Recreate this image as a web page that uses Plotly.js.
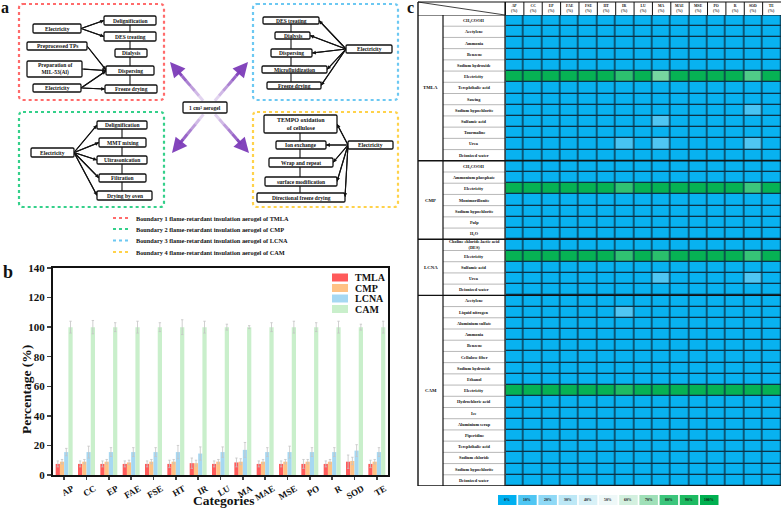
<!DOCTYPE html>
<html><head><meta charset="utf-8">
<script src="https://cdn.plot.ly/plotly-3.0.1.min.js"></script>
<style>html,body{margin:0;padding:0;background:#fff}#chart{width:781px;height:508px}</style>
</head><body><div id="chart"></div>
<script>
// ---------- DATA ----------
const categories = ['AP','CC','EP','FAE','FSE','HT','IR','LU','MA','MAE','MSE','PO','R','SOD','TE'];
const seriesNames = ['TMLA','CMP','LCNA','CAM'];
const tmla    = [7.5,7.5,7.5,7.5,7.5,7.5,8.0,7.5,8.5,7.5,7.5,7.5,7.5,9.0,7.5];
const tmlaErr = [2.0,2.0,2.0,2.0,2.0,2.5,3.5,2.0,3.0,2.0,2.0,3.0,2.0,4.5,2.5];
const cmp     = [9.0,9.0,9.0,8.5,9.0,9.0,8.0,9.0,9.0,9.0,9.0,9.0,9.0,9.5,9.0];
const cmpErr  = [1.5,1.5,1.5,1.5,1.5,1.5,2.0,1.5,2.0,1.5,1.5,1.5,1.5,2.5,1.5];
const lcna    = [15.5,15.5,15.5,15.5,15.5,15.5,14.5,15.5,17.0,15.5,15.5,15.5,15.5,16.5,15.5];
const lcnaErr = [2.5,4.0,3.0,3.0,3.0,4.5,4.5,3.5,5.0,3.0,4.0,3.0,3.0,4.0,3.0];
const cam     = [100,100,100,100,100,100,100,100,100,100,100,100,100,100,100];
const camErr  = [4.0,4.5,3.0,4.0,3.0,5.0,4.0,2.0,1.0,3.0,4.0,3.0,4.0,2.0,4.0];

const groupNames = ['TMLA','CMP','LCNA','CAM'];
const groupSizes = [13,7,5,17];
const rowLabels = [
 'CH\u2083COOH','Acetylene','Ammonia','Benzene','Sodium hydroxide','Electricity','Terephthalic acid','Sawing','Sodium hypochlorite','Sulfamic acid','Tourmaline','Urea','Deionized water',
 'CH\u2083COOH','Ammonium phosphate','Electricity','Montmorillonite','Sodium hypochlorite','Pulp','H\u2082O',
 'Choline chloride-lactic acid<br>(DES)','Electricity','Sulfamic acid','Urea','Deionized water',
 'Acetylene','Liquid nitrogen','Aluminium sulfate','Ammonia','Benzene','Cellulose fiber','Sodium hydroxide','Ethanol','Electricity','Hydrochloric acid','Ice','Aluminium scrap','Piperidine','Terephthalic acid','Sodium chloride','Sodium hypochlorite','Deionized water'
];
// contribution (%) per row (substance) and column (category)
const heat = [
 [1,1,1,1,1,1,1,1,1,1,1,1,1,1,1],
 [1,1,1,1,1,1,1,1,1,1,1,1,1,1,1],
 [1,1,1,1,1,1,1,1,1,1,1,1,1,1,1],
 [1,1,1,1,1,1,1,1,1,1,1,1,1,1,1],
 [1,1,1,1,1,1,1,1,1,1,1,1,1,1,1],
 [98,98,98,98,98,98,85,98,74,98,98,98,98,78,98],
 [1,1,1,1,1,1,1,1,1,1,1,1,1,1,1],
 [1,1,1,1,1,1,1,1,1,1,1,1,1,1,1],
 [1,1,1,1,1,1,1,1,1,1,1,1,1,9,1],
 [1,1,1,1,1,1,1,1,10,1,1,1,1,1,1],
 [1,1,1,1,1,1,1,1,1,1,1,1,1,1,1],
 [1,1,1,1,1,1,9,1,10,1,1,1,1,10,1],
 [1,1,1,1,1,1,1,1,1,1,1,1,1,1,1],
 [1,1,1,1,1,1,1,1,1,1,1,1,1,1,1],
 [1,1,1,1,1,1,1,1,1,1,1,1,1,1,1],
 [98,98,98,98,98,98,84,98,98,98,98,98,98,80,98],
 [1,1,1,1,1,1,1,1,1,1,1,1,1,1,1],
 [1,1,1,1,1,1,1,1,1,1,1,1,1,1,1],
 [1,1,1,1,1,1,1,1,1,1,1,1,1,1,1],
 [1,1,1,1,1,1,1,1,1,1,1,1,1,1,1],
 [1,1,1,1,1,1,1,1,1,1,1,1,1,1,1],
 [98,98,98,98,98,98,84,98,86,98,98,98,98,82,98],
 [1,1,1,1,1,1,1,1,1,1,1,1,1,1,1],
 [1,1,1,1,1,1,1,1,10,1,1,1,1,10,1],
 [1,1,1,1,1,1,1,1,1,1,1,1,1,1,1],
 [1,1,1,1,1,1,1,1,1,1,1,1,1,1,1],
 [1,1,1,1,1,1,10,1,1,1,1,1,1,1,1],
 [1,1,1,1,1,1,1,1,1,1,1,1,1,1,1],
 [1,1,1,1,1,1,1,1,1,1,1,1,1,1,1],
 [1,1,1,1,1,1,1,1,1,1,1,1,1,1,1],
 [1,1,1,1,1,1,1,1,1,1,1,1,1,1,1],
 [1,1,1,1,1,1,1,1,1,1,1,1,1,1,1],
 [1,1,1,1,1,1,1,1,1,1,1,1,1,1,1],
 [98,98,98,98,98,98,90,98,98,98,98,98,98,98,98],
 [1,1,1,1,1,1,1,1,1,1,1,1,1,1,1],
 [1,1,1,1,1,1,1,1,1,1,1,1,1,1,1],
 [1,1,1,1,1,1,1,1,1,1,1,1,1,1,1],
 [1,1,1,1,1,1,1,1,1,1,1,1,1,1,1],
 [1,1,1,1,1,1,1,1,1,1,1,1,1,1,1],
 [1,1,1,1,1,1,1,1,1,1,1,1,1,1,1],
 [1,1,1,1,1,1,1,1,1,1,1,1,1,1,1],
 [1,1,1,1,1,1,1,1,1,1,1,1,1,1,1]
];
const scaleLabels = ['0%','10%','20%','30%','40%','50%','60%','70%','80%','90%','100%'];
const scaleColors = ['#00b0f0','#4fc6f3','#8fd9f6','#bde8f6','#d8f1f7','#eef8f8','#d3f0df','#9fe0b8','#3cc67c','#1ebb62','#00b050'];

// ---------- STYLE / LAYOUT HELPERS ----------
const SERIF = 'Liberation Serif, Times New Roman, serif';
const W = 781, H = 508;
const shapes = [], ann = [];
function T(x, y, text, size, extra) {
  return Object.assign({xref:'x3', yref:'y3', x:x, y:y, text:text, showarrow:false,
    font:{family:SERIF, size:size, color:'#111', weight:700}}, extra || {});
}
function rrect(x0,y0,x1,y1,r){
  return `M${x0+r},${y0} H${x1-r} Q${x1},${y0} ${x1},${y0+r} V${y1-r} Q${x1},${y1} ${x1-r},${y1} H${x0+r} Q${x0},${y1} ${x0},${y1-r} V${y0+r} Q${x0},${y0} ${x0+r},${y0} Z`;
}
function line(x0,y0,x1,y1,w,c,dash){ shapes.push({type:'line',xref:'x3',yref:'y3',x0,y0,x1,y1,line:{color:c||'#111',width:w||1.1,dash:dash||'solid'}}); }
function arrow(x0,y0,x1,y1){
  line(x0,y0,x1,y1);
  ann.push({xref:'x3',yref:'y3',axref:'x3',ayref:'y3',x:x1,y:y1,ax:x0,ay:y0,text:'',showarrow:true,arrowhead:2,arrowsize:0.7,arrowwidth:1.1,arrowcolor:'#111'});
}
const boxes = [];
function box(x0,x1,y0,y1,text,size){ boxes.push({x0,x1,y0,y1,text,size:size||5.5}); }

// ---------- PANEL A diagram ----------
[[19,164,4,100,'#ff6b6b'],[253,398,4,100,'#6cc8f2'],[19,164,112,207,'#34d08a'],[253,398,112,207,'#ffd24a']].forEach(b=>{
  shapes.push({type:'path',xref:'x3',yref:'y3',path:rrect(b[0],b[2],b[1],b[3],4),line:{color:b[4],width:2.2,dash:'dot'}});
});
line(130,20,130,89);
arrow(81,28.5,104,20.5); arrow(81,28.5,104,36.5);
arrow(87,46,106,70); arrow(82,69,106,70.5); arrow(81,88,106,71); arrow(81,88,105,89);
box(33,81,24,33,'Electricity'); box(104,156,16,25,'Delignification'); box(104,156,32,41,'DES treating');
box(27,87,42,50,'Preprocessed TPs'); box(115,147,49,57,'Dialysis'); box(27,82,61,77,'Preparation of<br>MIL-53(Al)');
box(106,154,66,75,'Dispersing'); box(33,81,84,92,'Electricity'); box(105,157,85,93,'Freeze drying');
line(291,20,291,86);
arrow(346,49,319,20.5); arrow(346,49,310,35.5); arrow(346,49,312,53); arrow(346,49,327,69.5); arrow(346,49,321,85.5);
box(263,319,17,24,'DES treating'); box(275,310,32,39,'Dialysis'); box(271,312,49,57,'Dispersing');
box(262,327,66,73,'Microfluidization'); box(267,321,82,89,'Freeze drying'); box(346,392,45,53,'Electricity');
line(122,125,122,195);
arrow(74,152.5,97,125); arrow(74,152.5,99,142.5); arrow(74,152.5,97,160); arrow(74,152.5,99,178); arrow(74,152.5,97,195.5);
box(31,74,148,157,'Electricity'); box(97,147,121,129,'Delignification'); box(99,146,138,147,'MMT mixing');
box(97,147,156,164,'Ultrasonication'); box(99,146,174,182,'Filtration'); box(97,152,191,200,'Drying by oven');
line(300,124,300,197);
arrow(348,145,337,124); arrow(348,145,326,145); arrow(348,145,333,162.5); arrow(348,145,337,181.5); arrow(348,145,345,197);
box(264,337,115,133,'TEMPO oxidation<br>of cellulose',6); box(276,326,141,149,'Ion exchange'); box(348,393,141,149,'Electricity');
box(269,333,158,167,'Wrap and repeat'); box(265,337,177,186,'surface modification'); box(257,345,193,202,'Directional freeze drying');
[[170,62],[248,62],[172,153],[249,153]].forEach(h=>{
  const cx=209, cy=107.5, n=6;
  for(let k=0;k<n;k++){
    const f0=0.15+0.65*k/n, f1=0.15+0.65*(k+1)/n;
    shapes.push({type:'line',xref:'x3',yref:'y3',x0:cx+(h[0]-cx)*f0,y0:cy+(h[1]-cy)*f0,x1:cx+(h[0]-cx)*f1,y1:cy+(h[1]-cy)*f1,
      line:{color:`rgba(125,60,185,${(0.08+0.85*(k+1)/n).toFixed(2)})`,width:3}});
  }
  ann.push({xref:'x3',yref:'y3',axref:'x3',ayref:'y3',x:h[0],y:h[1],ax:cx+(h[0]-cx)*0.75,ay:cy+(h[1]-cy)*0.75,text:'',showarrow:true,arrowhead:2,arrowsize:1,arrowwidth:3,arrowcolor:'rgba(125,60,185,0.95)'});
});
box(183,227,102,113,'1 cm\u00b3 aerogel',5.5);
boxes.forEach(b=>{
  shapes.push({type:'path',xref:'x3',yref:'y3',path:rrect(b.x0,b.y0,b.x1,b.y1,1.2),fillcolor:'#fff',line:{color:'#111',width:1.3}});
  ann.push(T((b.x0+b.x1)/2,(b.y0+b.y1)/2,b.text,b.size,{xanchor:'center',yanchor:'middle'}));
});
const bColors=['#ff6b6b','#34d08a','#6cc8f2','#ffd24a'];
const bText=['Boundary 1 flame-retardant insulation aerogel of TMLA','Boundary 2 flame-retardant insulation aerogel of CMP','Boundary 3 flame-retardant insulation aerogel of LCNA','Boundary 4 flame-retardant insulation aerogel of CAM'];
[218,229,240.5,252].forEach((y,i)=>{
  line(113,y,130,y,2,bColors[i],'dot');
  ann.push(T(134,y,bText[i],6.3,{xanchor:'left',yanchor:'middle'}));
});
ann.push(T(5,7,'a',16,{}));
ann.push(T(8,272,'b',18,{}));
ann.push(T(410,7,'c',16,{}));

// ---------- PANEL B titles & legend ----------
ann.push(T(223,500,'Categories',13.5,{}));
ann.push(T(26,390,'Percentage (%)',13.5,{textangle:-90}));
const barColors=['#ff5a5a','#ffc285','#a6d8f2','#c9efcb'];
seriesNames.forEach((n,i)=>{
  const yc = 277.5 + i*10.5;
  shapes.push({type:'rect',xref:'x3',yref:'y3',x0:332,x1:348,y0:yc-4,y1:yc+4,fillcolor:barColors[i],line:{width:0}});
  ann.push(T(353,yc,n,10,{xanchor:'left',yanchor:'middle'}));
});

// ---------- PANEL C table ----------
const rowIdx = rowLabels.map((_,i)=>i);
shapes.push({type:'rect',xref:'x2',yref:'y2',x0:-0.5,x1:categories.length-0.5,y0:-0.5,y1:rowLabels.length-0.5,layer:'below',fillcolor:'#0c3347',line:{width:0}});
rowLabels.forEach((r,i)=>{
  ann.push({xref:'x3',yref:'y2',x:474,y:i,text:r,showarrow:false,font:{family:SERIF,size:4.3,color:'#111',weight:700}});
  if(i<rowLabels.length-1) shapes.push({type:'line',xref:'x3',yref:'y2',x0:443,x1:505,y0:i+0.5,y1:i+0.5,line:{color:'#888',width:0.6}});
});
let start=0;
groupNames.forEach((g,k)=>{
  const end=start+groupSizes[k]-1;
  ann.push({xref:'x3',yref:'y2',x:430.5,y:(start+end)/2,text:g,showarrow:false,font:{family:SERIF,size:4.8,color:'#111',weight:700}});
  if(k<groupNames.length-1) shapes.push({type:'line',xref:'x3',yref:'y2',x0:418,x1:781,y0:end+0.5,y1:end+0.5,line:{color:'#111',width:1.4}});
  start=end+1;
});
categories.forEach((c,i)=>{
  ann.push({xref:'x2',yref:'y3',x:c,y:8.5,text:c+'<br>(%)',showarrow:false,font:{family:SERIF,size:3.8,color:'#111',weight:700}});
  shapes.push({type:'line',xref:'x2',yref:'y3',x0:i-0.5,x1:i-0.5,y0:2,y1:15,line:{color:'#111',width:1}});
});
shapes.push({type:'line',xref:'x3',yref:'y3',x0:418,x1:781,y0:2,y1:2,line:{color:'#111',width:1.2}});
shapes.push({type:'line',xref:'x3',yref:'y2',x0:418,x1:781,y0:-0.5,y1:-0.5,line:{color:'#111',width:1.2}});
shapes.push({type:'line',xref:'x3',yref:'y2',x0:418,x1:781,y0:rowLabels.length-0.5,y1:rowLabels.length-0.5,line:{color:'#111',width:1.4}});
shapes.push({type:'line',xref:'x3',yref:'y3',x0:418,x1:418,y0:2,y1:486,line:{color:'#111',width:1.4}});
shapes.push({type:'line',xref:'x3',yref:'y2',x0:443,x1:443,y0:-0.5,y1:rowLabels.length-0.5,line:{color:'#111',width:1.2}});
shapes.push({type:'line',xref:'x3',yref:'y3',x0:505,x1:505,y0:2,y1:486,line:{color:'#111',width:1.2}});
shapes.push({type:'line',xref:'x3',yref:'y3',x0:418,x1:505,y0:2,y1:15,line:{color:'#111',width:0.8}});
scaleLabels.forEach((s,i)=>{
  const x0=498+i*20.2;
  shapes.push({type:'rect',xref:'x3',yref:'y3',x0:x0,x1:x0+18.5,y0:495,y1:505,fillcolor:scaleColors[i],line:{width:0}});
  ann.push(T(x0+9.25,500,s,3.8,{}));
});

// ---------- TRACES ----------
const vals=[tmla,cmp,lcna,cam], errs=[tmlaErr,cmpErr,lcnaErr,camErr];
const traces = seriesNames.map((n,i)=>({type:'bar',name:n,x:categories,y:vals[i],marker:{color:barColors[i],line:{width:0}},
  error_y:{type:'data',array:errs[i],color:'#c4c4c4',thickness:0.8,width:1.2},xaxis:'x',yaxis:'y',showlegend:false}));
traces.push({type:'heatmap',x:categories,y:rowIdx,z:heat,zmin:0,zmax:100,
  colorscale:scaleColors.map((c,i)=>[i/(scaleColors.length-1),c]),showscale:false,xgap:1.4,ygap:1.3,
  xaxis:'x2',yaxis:'y2',hoverinfo:'skip'});
traces.push({type:'scatter',x:[],y:[],xaxis:'x3',yaxis:'y3',showlegend:false,hoverinfo:'skip'});

const layout = {
  width:W,height:H,margin:{l:0,r:0,t:0,b:0},paper_bgcolor:'#fff',plot_bgcolor:'rgba(0,0,0,0)',
  font:{family:SERIF,color:'#111'},
  barmode:'group',bargap:0.24,bargroupgap:0,showlegend:false,
  xaxis:{domain:[53/W,388/W],anchor:'y',showline:true,mirror:true,linewidth:2,linecolor:'#111',ticks:'outside',ticklen:3,tickwidth:1.5,
    tickangle:-30,tickfont:{family:SERIF,size:9,weight:700},automargin:false,ticklabelshift:8},
  yaxis:{domain:[1-475/H,1-268/H],anchor:'x',range:[0,140],dtick:20,showline:true,mirror:true,linewidth:2,linecolor:'#111',
    ticks:'outside',ticklen:4,tickwidth:1.5,showgrid:false,zeroline:false,tickfont:{family:SERIF,size:11,weight:700},automargin:false},
  xaxis2:{domain:[505/W,1],anchor:'y2',type:'category',showticklabels:false,ticks:'',showgrid:false,zeroline:false,showline:false,automargin:false},
  yaxis2:{domain:[1-486/H,1-15/H],anchor:'x2',range:[rowLabels.length-0.5,-0.5],showticklabels:false,ticks:'',showgrid:false,zeroline:false,automargin:false},
  xaxis3:{domain:[0,1],anchor:'y3',range:[0,W],visible:false,fixedrange:true},
  yaxis3:{domain:[0,1],anchor:'x3',range:[H,0],visible:false,fixedrange:true},
  shapes:shapes,annotations:ann
};
Plotly.newPlot('chart',traces,layout,{staticPlot:true});
</script></body></html>
